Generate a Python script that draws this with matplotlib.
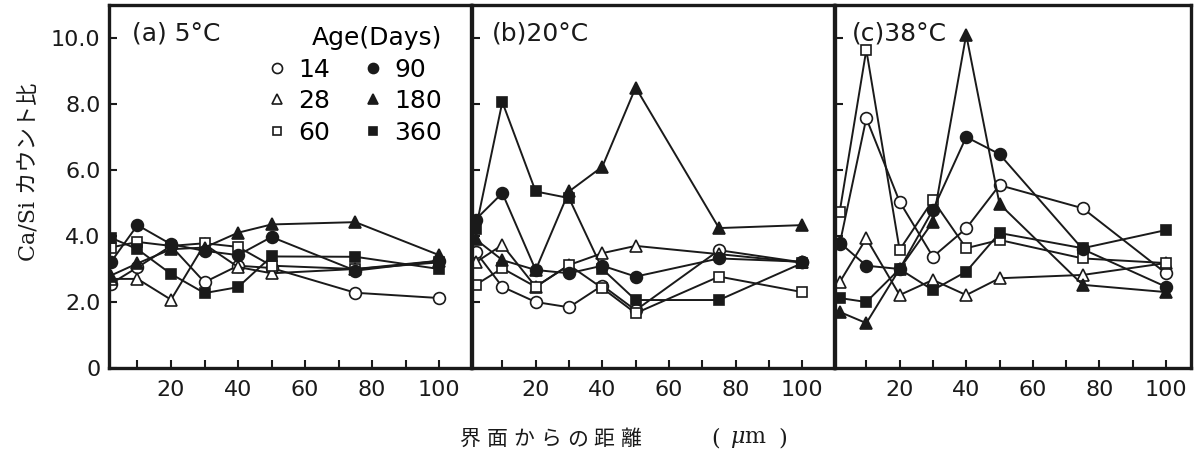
import matplotlib
matplotlib.use("Agg")
import matplotlib.pyplot as plt

plt.rcParams["mathtext.fontset"] = "dejavuserif"

# ---------------- data ----------------
distance = [2, 10, 20, 30, 40, 50, 75, 100]
ages = ["14", "28", "60", "90", "180", "360"]
panel_titles = ["(a) 5°C", "(b)20°C", "(c)38°C"]

# panel (a) 5°C
a_14 = [2.55, 3.05, 3.7, 2.6, 3.1, 3.03, 2.28, 2.12]
a_28 = [2.7, 2.7, 2.07, 3.75, 3.06, 2.87, 3.0, 3.25]
a_60 = [3.65, 3.82, 3.7, 3.78, 3.67, 3.1, 3.0, 3.2]
a_90 = [3.2, 4.33, 3.75, 3.55, 3.42, 3.97, 2.95, 3.25]
a_180 = [2.8, 3.17, 3.6, 3.65, 4.1, 4.35, 4.42, 3.42]
a_360 = [3.95, 3.6, 2.85, 2.27, 2.45, 3.38, 3.37, 3.0]

# panel (b) 20°C
b_14 = [3.52, 2.46, 2.0, 1.84, 2.5, 1.75, 3.57, 3.2]
b_28 = [3.2, 3.73, 2.46, 3.12, 3.48, 3.7, 3.45, 3.2]
b_60 = [2.52, 3.02, 2.46, 3.12, 2.42, 1.66, 2.77, 2.3]
b_90 = [4.5, 5.3, 2.97, 2.87, 3.1, 2.77, 3.32, 3.22]
b_180 = [3.9, 3.27, 2.97, 5.35, 6.1, 8.5, 4.24, 4.33]
b_360 = [4.2, 8.06, 5.35, 5.15, 3.0, 2.06, 2.06, 3.18]

# panel (c) 38°C
c_14 = [3.75, 7.57, 5.04, 3.37, 4.23, 5.54, 4.84, 2.87]
c_28 = [2.6, 3.93, 2.21, 2.67, 2.21, 2.72, 2.82, 3.18]
c_60 = [4.73, 9.64, 3.58, 5.09, 3.63, 3.88, 3.32, 3.18]
c_90 = [3.8, 3.1, 3.0, 4.79, 7.0, 6.48, 3.6, 2.46]
c_180 = [1.7, 1.36, 3.0, 4.43, 10.1, 4.97, 2.52, 2.3]
c_360 = [2.12, 2.0, 3.0, 2.36, 2.92, 4.09, 3.63, 4.18]

panels = [
    [a_14, a_28, a_60, a_90, a_180, a_360],
    [b_14, b_28, b_60, b_90, b_180, b_360],
    [c_14, c_28, c_60, c_90, c_180, c_360],
]

yticks = [0, 2, 4, 6, 8, 10]
ytick_labels = ["0", "2.0", "4.0", "6.0", "8.0", "10.0"]
xticks = [10, 20, 30, 40, 50, 60, 70, 80, 90, 100]
xtick_labels = ["", "20", "", "40", "", "60", "", "80", "", "100"]

# ---------------- style ----------------
INK = "#1a1a1a"
styles = [
    dict(marker="o", mfc="white", ms=8.5),
    dict(marker="^", mfc="white", ms=8.5),
    dict(marker="s", mfc="white", ms=7.5),
    dict(marker="o", mfc=INK, ms=8.5),
    dict(marker="^", mfc=INK, ms=8.5),
    dict(marker="s", mfc=INK, ms=7.5),
]

W, H = 1195, 453
fig = plt.figure(figsize=(W / 100, H / 100), dpi=100)
fig.patch.set_facecolor("white")

def px_axes(l, r, t, b):
    return fig.add_axes([l / W, 1 - b / H, (r - l) / W, (b - t) / H])

boxes = [(109, 471, 5, 368), (472, 834, 5, 368), (835, 1191, 5, 368)]
xlims = [(1.5, 109.5), (0.9, 109.5), (0.6, 107.5)]
title_x = [132, 492, 852]

axes = []
for i, (box, data) in enumerate(zip(boxes, panels)):
    ax = px_axes(*box)
    axes.append(ax)
    for lab, ser, st in zip(ages, data, styles):
        ax.plot(distance, ser, color=INK, lw=1.4, mec=INK,
                mew=1.2, label=lab, clip_on=True, **st)
    ax.set_xlim(*xlims[i])
    ax.set_ylim(0, 11.0)
    ax.set_xticks(xticks)
    ax.set_xticklabels(xtick_labels)
    ax.set_yticks(yticks[1:] if i > 0 else yticks)
    if i == 0:
        ax.set_yticklabels(ytick_labels)
    else:
        ax.set_yticklabels([])
    ax.tick_params(direction="in", length=6, width=1.5, labelsize=16,
                   colors=INK)
    ax.tick_params(axis="x", pad=9)
    ax.tick_params(axis="y", pad=6)
    for s in ax.spines.values():
        s.set_linewidth(2.4)
        s.set_color(INK)
    fig.text(title_x[i] / W, 1 - 33 / H, panel_titles[i], fontsize=18,
             ha="left", va="center", color=INK)

# legend in panel (a)
leg = axes[0].legend(ncol=2, title="Age(Days)", frameon=False, fontsize=18,
                     title_fontsize=18, handlelength=1.0, handletextpad=0.35,
                     columnspacing=1.2, labelspacing=0.3, markerscale=0.85,
                     loc="upper right", bbox_to_anchor=(0.968, 0.99),
                     alignment="right", borderpad=0.2)
for h in leg.legend_handles:
    h.set_linestyle("none")

# axis labels
fig.text(30 / W, 1 - 172 / H, "Ca/Si カウント比", rotation=90, ha="center",
         va="center", fontsize=16, family=["DejaVu Serif", "Noto Sans CJK JP"],
         color=INK)

xlabel_chars = ["界", "面", "か", "ら", "の", "距", "離"]
x0, pitch = 470, 26.8
for k, ch in enumerate(xlabel_chars):
    fig.text((x0 + k * pitch) / W, 1 - 439 / H, ch, ha="center", va="center",
             fontsize=15, family=["Noto Sans CJK JP"], color=INK)
fig.text(716 / W, 1 - 439 / H, "(", ha="center", va="center",
         fontsize=16, family=["DejaVu Serif"], color=INK)
fig.text(748 / W, 1 - 439 / H, r"$\mu$m", ha="center", va="center",
         fontsize=16, family=["DejaVu Serif"], color=INK)
fig.text(783 / W, 1 - 439 / H, ")", ha="center", va="center",
         fontsize=16, family=["DejaVu Serif"], color=INK)

fig.savefig("out.png", dpi=100, facecolor="white")
